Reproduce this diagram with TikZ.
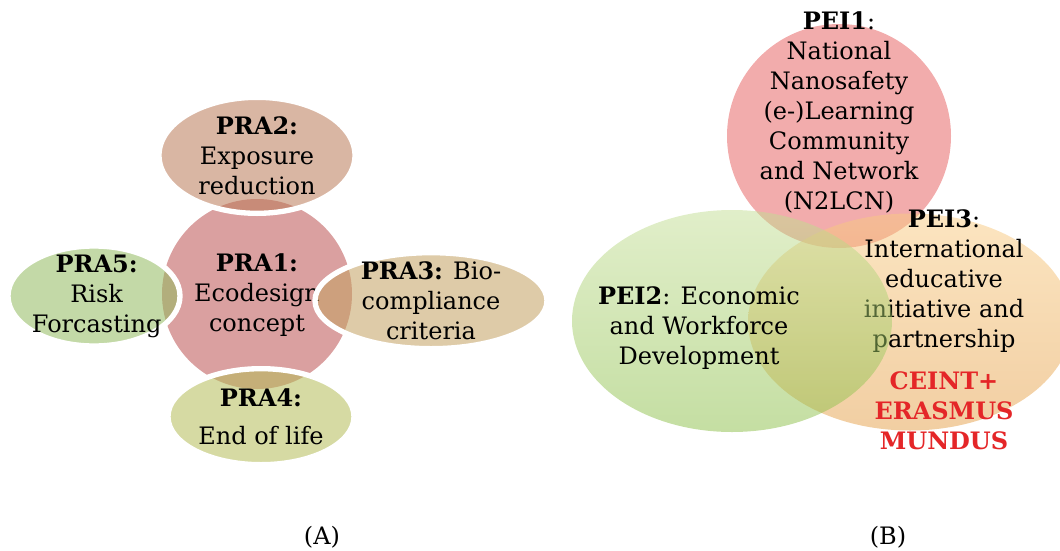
\documentclass[tikz,border=0pt]{standalone}
\usepackage{fontspec}
\setmainfont{DejaVu Serif}
\usepackage{xcolor}
\usetikzlibrary{shapes.geometric}
\usetikzlibrary{positioning}

\definecolor{rosecoeur}{RGB}{218,160,160}
\definecolor{brunpra}{RGB}{186,122,88}
\definecolor{sablepra}{RGB}{195,160,97}
\definecolor{olivepra}{RGB}{180,188,88}
\definecolor{vertpra}{RGB}{146,186,95}
\definecolor{rougepei}{RGB}{229,89,89}
\definecolor{orangehaut}{RGB}{249,203,130}
\definecolor{orangebas}{RGB}{228,158,70}
\definecolor{verthaut}{RGB}{195,222,148}
\definecolor{vertbas}{RGB}{138,190,70}
\definecolor{rougetexte}{RGB}{228,38,40}

\begin{document}
\begin{tikzpicture} [
  x = 0.75pt, y = -0.75pt,
  texte/.style = {align = center, inner sep = 0pt, font = \fontsize{18}{22.5}\selectfont},
  coeur/.style = {circle, fill = rosecoeur, inner sep = 0pt, minimum size = 142.5pt},
  petale/.style = {ellipse, draw = white, line width = 4pt, fill opacity = 0.55, inner sep = 0pt},
  bulle/.style = {ellipse, fill opacity = 0.5, inner sep = 0pt},
]

\useasboundingbox (0,0) rectangle (1060,550);

% (A)
 \node [coeur] (pra1) at (257,294) {};
 \node [texte] (tpra1) at (257,295) {\textbf{PRA1:}\\Ecodesign\\concept};

 \node [petale, fill = brunpra, minimum width = 147pt, minimum height = 87pt,
        above of = pra1, node distance = 104pt] (pra2) {};
 \node [texte] (tpra2) at (pra2) {\textbf{PRA2:}\\Exposure\\reduction};

 \node [petale, fill = sablepra, minimum width = 174pt, minimum height = 72pt,
        right of = pra1, node distance = 130.5pt, yshift = -5pt] (pra3) {};
 \node [texte] (tpra3) at (pra3) {\textbf{PRA3:} Bio-\\compliance\\criteria};

 \node [petale, fill = olivepra, minimum width = 139.5pt, minimum height = 72pt,
        below of = pra1, node distance = 92pt, xshift = 3pt] (pra4) {};
 \node [texte] (tpra4) at (pra4) {\textbf{PRA4:}\\[6pt]End of life};

 \node [petale, fill = vertpra, minimum width = 129pt, minimum height = 75pt,
        left of = pra1, node distance = 122.25pt, yshift = -1.5pt] (pra5) {};
 \node [texte, xshift = 2pt] (tpra5) at (pra5) {\textbf{PRA5:}\\Risk\\Forcasting};

 \node [texte] (capA) at (322,537) {(A)};

% (B)
 \node [bulle, circle, fill = rougepei, minimum size = 168pt] (pei1) at (839,136) {};
 \node [bulle, top color = orangehaut, bottom color = orangebas,
        minimum width = 243pt, minimum height = 162.75pt,
        below of = pei1, node distance = 139.5pt, xshift = 53.25pt] (pei3) {};
 \node [texte, xshift = 25.5pt, yshift = -6pt] (tpei3) at (pei3)
   {\textbf{PEI3}:\\International\\educative\\initiative and\\partnership\\[9pt]
    \color{rougetexte}\textbf{CEINT+}\\\color{rougetexte}\textbf{ERASMUS}\\\color{rougetexte}\textbf{MUNDUS}};
 \node [bulle, top color = verthaut, bottom color = vertbas,
        minimum width = 240pt, minimum height = 166.5pt,
        below of = pei1, node distance = 138.75pt, xshift = -80.25pt] (pei2) {};
 \node [texte, xshift = -24.75pt, yshift = -5.25pt] (tpei2) at (pei2)
   {\textbf{PEI2}: Economic\\and Workforce\\Development};
 \node [texte, yshift = 18pt] (tpei1) at (pei1)
   {\textbf{PEI1}:\\National\\Nanosafety\\(e-)Learning\\Community\\and Network\\(N2LCN)};

 \node [texte] (capB) at (888,537) {(B)};

\end{tikzpicture}
\end{document}
